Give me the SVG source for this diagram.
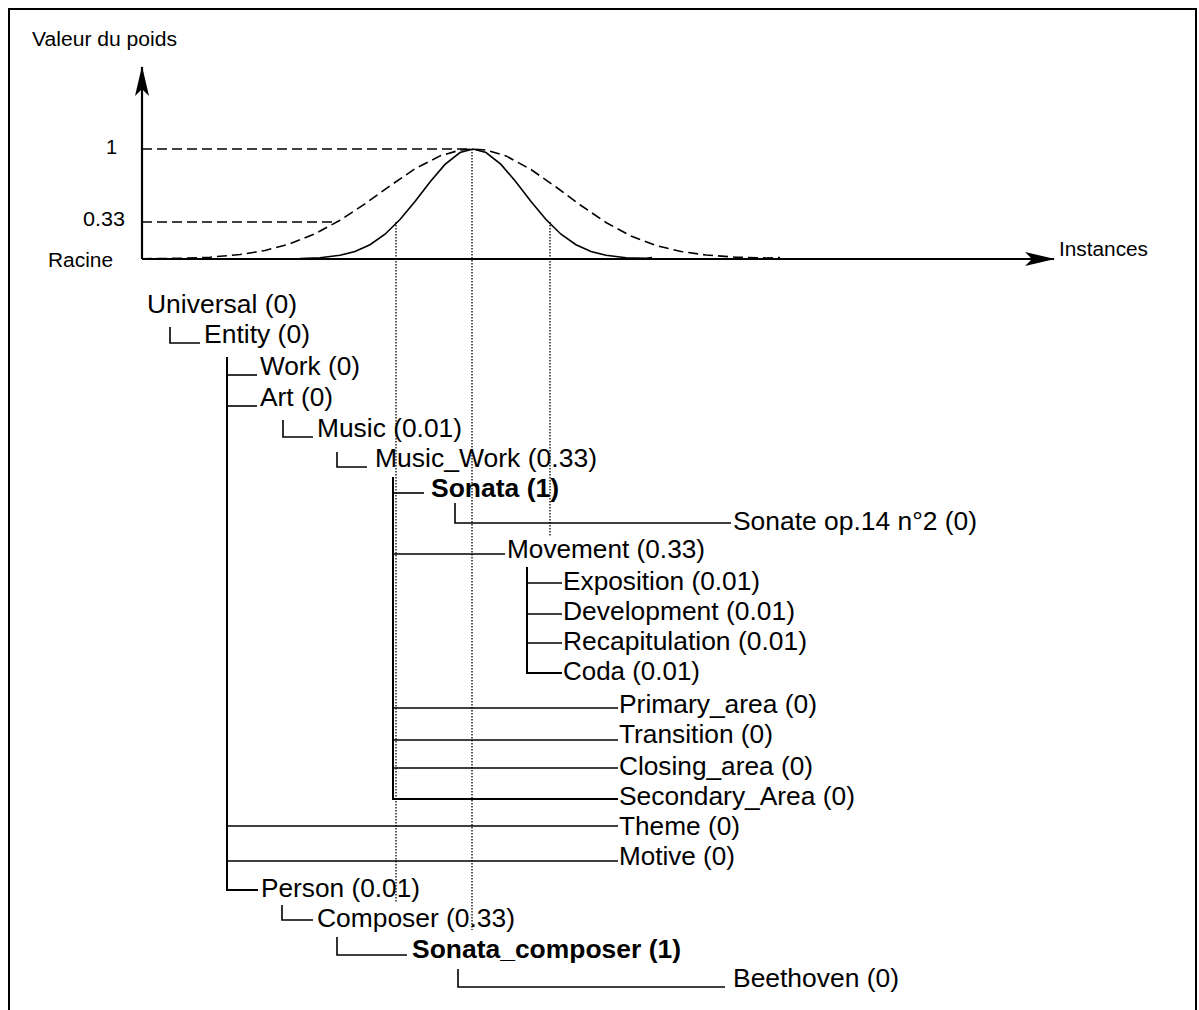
<svg xmlns="http://www.w3.org/2000/svg" width="1199" height="1010" viewBox="0 0 1199 1010">
<style>
text{font-family:"Liberation Sans",Arial,Helvetica,sans-serif;fill:#000}
.t{font-size:25px}
.b{font-weight:bold}
.g{font-size:20px}
.ln{stroke:#000;stroke-width:1.6;fill:none}
.v{stroke:#000;stroke-width:2;fill:none}
.dash{stroke:#000;stroke-width:1.6;fill:none;stroke-dasharray:10 5}
.dot{stroke:#000;stroke-width:1.3;fill:none;stroke-dasharray:1.5 1.5}
.axis{stroke:#000;stroke-width:2.2;fill:none}
</style>
<defs>
<marker id="arr" viewBox="0 0 30 14" refX="29" refY="7" markerWidth="30" markerHeight="14" markerUnits="userSpaceOnUse" orient="auto">
<path d="M0,0 L30,7 L0,14 L7,7 Z" fill="#000"/>
</marker>
</defs>
<rect x="0" y="0" width="1199" height="1010" fill="#fff"/>
<rect x="9" y="9" width="1187" height="1010" fill="none" stroke="#000" stroke-width="2"/>

<g id="chart">
<path class="axis" d="M142,259 V67" marker-end="url(#arr)"/>
<path class="axis" d="M142,259 H1054" marker-end="url(#arr)"/>
<path class="dash" d="M142,149 H472"/>
<path class="dash" d="M142,222 H336"/>
<polyline class="dash" points="142,258.8 180,258.3 210,257.2 240,254.5 265,250.5 290,243.8 315,233.8 340,220.3 365,203.8 390,185.8 415,168.8 440,155.9 460,150.1 473,149 486,150.1 506,155.9 531,169.5 556,187 581,205.5 606,222.5 631,236 656,245.5 681,251.5 706,255 736,257.2 766,258 780,257.5"/>
<polyline class="ln" points="283,258.9 300,258.65 320,257.8 340,255.3 355,251.4 370,244.7 385,234.2 400,219.5 415,201.4 430,181.9 445,164.4 460,152.5 473,149 486,152.5 501,164.4 516,181.9 531,201.4 546,219.5 561,234.2 576,244.7 591,251.4 606,255.3 626,257.8 646,258.2 652,257.6"/>
<path class="dot" d="M396,222 V903"/>
<path class="dot" d="M472,149 V930"/>
<path class="dot" d="M550,222 V537"/>
<text class="g" x="32" y="46" textLength="145" lengthAdjust="spacingAndGlyphs">Valeur du poids</text>
<text class="g" x="106" y="154">1</text>
<text class="g" x="83" y="226" textLength="42" lengthAdjust="spacingAndGlyphs">0.33</text>
<text class="g" x="48" y="267" textLength="65" lengthAdjust="spacingAndGlyphs">Racine</text>
<text class="g" x="1059" y="256" textLength="89" lengthAdjust="spacingAndGlyphs">Instances</text>
</g>

<g id="connectors">
<path class="ln" d="M170,327 V343 H200"/>
<path class="v" d="M227,357 V890 H258"/>
<path class="ln" d="M227,375 H257"/>
<path class="ln" d="M227,406 H257"/>
<path class="ln" d="M227,826 H618"/>
<path class="ln" d="M227,861 H618"/>
<path class="ln" d="M283,420 V437 H313"/>
<path class="ln" d="M337,452 V467 H367"/>
<path class="v" d="M393,477 V799 H618"/>
<path class="ln" d="M393,493 H424"/>
<path class="ln" d="M393,554 H505"/>
<path class="ln" d="M393,708 H618"/>
<path class="ln" d="M393,740 H618"/>
<path class="ln" d="M393,768 H618"/>
<path class="ln" d="M455,503 V523 H731"/>
<path class="v" d="M527,567 V673 H562"/>
<path class="ln" d="M527,583 H562"/>
<path class="ln" d="M527,614 H562"/>
<path class="ln" d="M527,643 H562"/>
<path class="ln" d="M282,905 V920 H313"/>
<path class="ln" d="M337,937 V955 H407"/>
<path class="ln" d="M458,969 V987 H725"/>
</g>

<g id="universal"><text class="t" x="147" y="313" textLength="150" lengthAdjust="spacingAndGlyphs">Universal (0)</text></g>
<g id="entity"><text class="t" x="204" y="343" textLength="106" lengthAdjust="spacingAndGlyphs">Entity (0)</text></g>
<g id="work"><text class="t" x="260" y="375" textLength="100" lengthAdjust="spacingAndGlyphs">Work (0)</text></g>
<g id="art"><text class="t" x="260" y="406" textLength="73" lengthAdjust="spacingAndGlyphs">Art (0)</text></g>
<g id="music"><text class="t" x="317" y="437" textLength="145" lengthAdjust="spacingAndGlyphs">Music (0.01)</text></g>
<g id="music_work"><text class="t" x="375" y="467" textLength="222" lengthAdjust="spacingAndGlyphs">Music_Work (0.33)</text></g>
<g id="sonata"><text class="t b" x="431" y="497" textLength="128" lengthAdjust="spacingAndGlyphs">Sonata (1)</text></g>
<g id="sonate_op14"><text class="t" x="733" y="530" textLength="244" lengthAdjust="spacingAndGlyphs">Sonate op.14 n°2 (0)</text></g>
<g id="movement"><text class="t" x="507" y="558" textLength="198" lengthAdjust="spacingAndGlyphs">Movement (0.33)</text></g>
<g id="exposition"><text class="t" x="563" y="590" textLength="197" lengthAdjust="spacingAndGlyphs">Exposition (0.01)</text></g>
<g id="development"><text class="t" x="563" y="620" textLength="232" lengthAdjust="spacingAndGlyphs">Development (0.01)</text></g>
<g id="recapitulation"><text class="t" x="563" y="650" textLength="244" lengthAdjust="spacingAndGlyphs">Recapitulation (0.01)</text></g>
<g id="coda"><text class="t" x="563" y="680" textLength="137" lengthAdjust="spacingAndGlyphs">Coda (0.01)</text></g>
<g id="primary_area"><text class="t" x="619" y="713" textLength="198" lengthAdjust="spacingAndGlyphs">Primary_area (0)</text></g>
<g id="transition"><text class="t" x="619" y="743" textLength="154" lengthAdjust="spacingAndGlyphs">Transition (0)</text></g>
<g id="closing_area"><text class="t" x="619" y="775" textLength="194" lengthAdjust="spacingAndGlyphs">Closing_area (0)</text></g>
<g id="secondary_area"><text class="t" x="619" y="805" textLength="236" lengthAdjust="spacingAndGlyphs">Secondary_Area (0)</text></g>
<g id="theme"><text class="t" x="619" y="835" textLength="121" lengthAdjust="spacingAndGlyphs">Theme (0)</text></g>
<g id="motive"><text class="t" x="619" y="865" textLength="116" lengthAdjust="spacingAndGlyphs">Motive (0)</text></g>
<g id="person"><text class="t" x="261" y="897" textLength="159" lengthAdjust="spacingAndGlyphs">Person (0.01)</text></g>
<g id="composer"><text class="t" x="317" y="927" textLength="198" lengthAdjust="spacingAndGlyphs">Composer (0.33)</text></g>
<g id="sonata_composer"><text class="t b" x="412" y="958" textLength="269" lengthAdjust="spacingAndGlyphs">Sonata_composer (1)</text></g>
<g id="beethoven"><text class="t" x="733" y="987" textLength="166" lengthAdjust="spacingAndGlyphs">Beethoven (0)</text></g>
</svg>
